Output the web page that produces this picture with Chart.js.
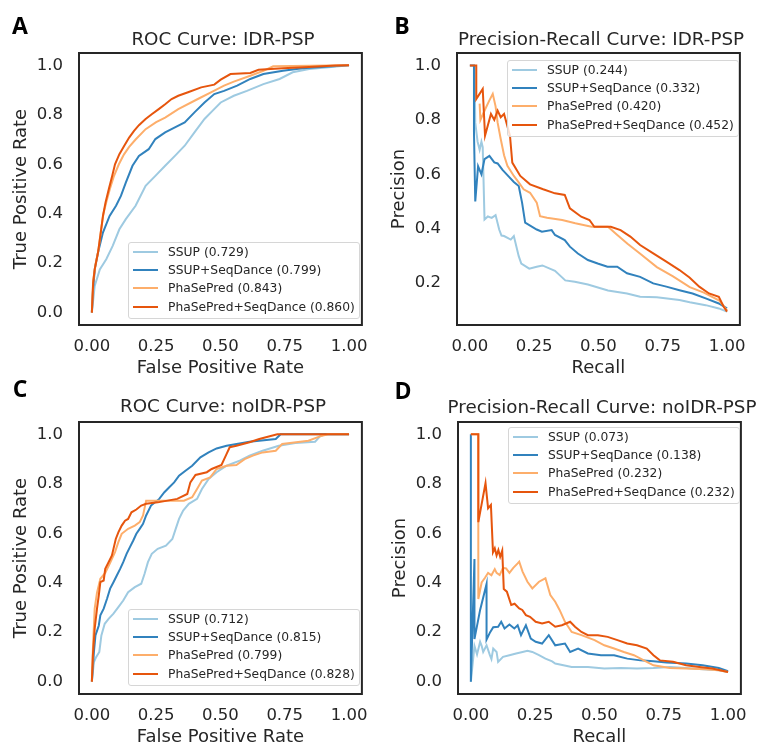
<!DOCTYPE html>
<html>
<head>
<meta charset="utf-8">
<script src="https://cdn.jsdelivr.net/npm/chart.js@4.4.0/dist/chart.umd.min.js"></script>
<style>
  html, body { margin: 0; padding: 0; background: #fff; overflow: hidden; }
  body { width: 757px; height: 745px; position: relative; font-family: "DejaVu Sans", sans-serif; color: #262626; }
  canvas { position: absolute; }
  .letter { position: absolute; font-family: "Open Sans", sans-serif; font-weight: 700; font-size: 23px; color: #000; transform: translate(-50%, -50%); }
  .title { position: absolute; font-size: 18.3px; white-space: nowrap; transform: translate(-50%, -50%); }
  .legend { position: absolute; box-sizing: border-box; background: rgba(255,255,255,0.8); border: 1px solid #d6d6d6; border-radius: 3px; font-size: 12.3px; padding: 0 0 0 4px; }
  .legend .row { height: 18.2px; display: flex; align-items: center; white-space: nowrap; }
  .legend .swatch { width: 25px; height: 2px; margin-right: 10px; flex: none; }
</style>
</head>
<body>
<script>
// --- series names / colours ---
const seriesNames = ["SSUP", "SSUP+SeqDance", "PhaSePred", "PhaSePred+SeqDance"];
const seriesColors = ["#9ecae1", "#3182bd", "#fdae6b", "#e6550d"];

// --- AUC / AP values shown in legends ---
const aucRocIdr = [0.729, 0.799, 0.843, 0.860];
const apPrIdr = [0.244, 0.332, 0.420, 0.452];
const aucRocNoIdr = [0.712, 0.815, 0.799, 0.828];
const apPrNoIdr = [0.073, 0.138, 0.232, 0.232];

// --- tick labels ---
const xTicks = [0, 0.25, 0.5, 0.75, 1.0];
const yTicksFull = [0, 0.2, 0.4, 0.6, 0.8, 1.0];
const yTicksPrIdr = [0.2, 0.4, 0.6, 0.8, 1.0];

// --- ROC: IDR-PSP  [fpr, tpr] ---
const rocIdrSsup = [[0,0],[0.011,0.108],[0.031,0.175],[0.056,0.216],[0.081,0.27],[0.107,0.337],[0.132,0.378],[0.17,0.432],[0.209,0.513],[0.247,0.553],[0.285,0.594],[0.323,0.634],[0.361,0.675],[0.399,0.729],[0.438,0.783],[0.468,0.815],[0.501,0.85],[0.552,0.877],[0.603,0.897],[0.667,0.924],[0.73,0.945],[0.781,0.972],[0.845,0.985],[0.921,0.992],[1,1]];
const rocIdrSsupSeq = [[0,0],[0.005,0.1],[0.012,0.18],[0.024,0.243],[0.043,0.324],[0.069,0.391],[0.094,0.432],[0.113,0.472],[0.132,0.526],[0.158,0.594],[0.183,0.634],[0.221,0.661],[0.247,0.702],[0.285,0.729],[0.323,0.749],[0.361,0.769],[0.399,0.81],[0.438,0.85],[0.476,0.884],[0.514,0.897],[0.565,0.918],[0.616,0.945],[0.667,0.965],[0.743,0.978],[0.819,0.988],[0.921,0.995],[1,1]];
const rocIdrPhase = [[0,0],[0.005,0.13],[0.015,0.2],[0.025,0.25],[0.035,0.33],[0.045,0.4],[0.057,0.45],[0.07,0.5],[0.085,0.55],[0.105,0.6],[0.125,0.64],[0.145,0.67],[0.17,0.7],[0.209,0.742],[0.25,0.77],[0.285,0.789],[0.336,0.823],[0.412,0.864],[0.463,0.891],[0.514,0.918],[0.552,0.934],[0.616,0.958],[0.667,0.978],[0.705,0.996],[0.85,0.998],[1,1]];
const rocIdrPhaseSeq = [[0,0],[0.005,0.12],[0.011,0.175],[0.024,0.243],[0.033,0.31],[0.043,0.39],[0.053,0.445],[0.066,0.5],[0.079,0.553],[0.09,0.6],[0.107,0.641],[0.126,0.675],[0.145,0.708],[0.164,0.735],[0.183,0.758],[0.209,0.783],[0.234,0.803],[0.26,0.823],[0.285,0.843],[0.31,0.864],[0.336,0.877],[0.374,0.891],[0.425,0.911],[0.476,0.922],[0.501,0.942],[0.539,0.965],[0.616,0.969],[0.648,0.982],[0.743,0.988],[0.845,0.993],[0.947,0.999],[1,1]];

// --- Precision-Recall: IDR-PSP  [recall, precision] ---
const prIdrSsup = [[0.018,1.0],[0.021,0.79],[0.03,0.72],[0.038,0.69],[0.045,0.72],[0.05,0.70],[0.057,0.434],[0.07,0.445],[0.085,0.44],[0.1,0.45],[0.114,0.397],[0.123,0.375],[0.133,0.373],[0.159,0.36],[0.171,0.373],[0.19,0.299],[0.2,0.272],[0.231,0.253],[0.26,0.26],[0.282,0.265],[0.331,0.245],[0.371,0.21],[0.408,0.205],[0.459,0.195],[0.537,0.173],[0.611,0.162],[0.662,0.15],[0.727,0.148],[0.815,0.138],[0.855,0.13],[0.917,0.119],[0.968,0.107],[1.0,0.095]];
const prIdrSsupSeq = [[0,1.0],[0.016,1.0],[0.016,0.754],[0.021,0.5],[0.032,0.63],[0.045,0.60],[0.057,0.656],[0.076,0.668],[0.095,0.644],[0.108,0.64],[0.127,0.616],[0.146,0.597],[0.171,0.572],[0.19,0.557],[0.203,0.496],[0.215,0.422],[0.26,0.397],[0.28,0.389],[0.318,0.395],[0.331,0.377],[0.369,0.358],[0.389,0.334],[0.42,0.309],[0.459,0.285],[0.497,0.272],[0.535,0.26],[0.573,0.26],[0.611,0.236],[0.662,0.223],[0.713,0.199],[0.764,0.187],[0.815,0.174],[0.866,0.162],[0.917,0.144],[0.968,0.125],[1.0,0.107]];
const prIdrPhase = [[0.038,0.86],[0.041,0.80],[0.06,0.84],[0.075,0.87],[0.089,0.896],[0.1,0.85],[0.108,0.79],[0.12,0.73],[0.133,0.67],[0.146,0.631],[0.171,0.594],[0.19,0.57],[0.209,0.545],[0.234,0.532],[0.26,0.496],[0.273,0.446],[0.3,0.44],[0.359,0.432],[0.41,0.42],[0.473,0.407],[0.537,0.407],[0.57,0.38],[0.613,0.345],[0.66,0.31],[0.727,0.259],[0.79,0.225],[0.855,0.185],[0.91,0.165],[0.97,0.136],[1.0,0.1]];
const prIdrPhaseSeq = [[0,1.0],[0.025,1.0],[0.025,0.877],[0.05,0.914],[0.059,0.742],[0.082,0.822],[0.095,0.80],[0.108,0.834],[0.12,0.81],[0.133,0.822],[0.156,0.742],[0.165,0.643],[0.196,0.594],[0.234,0.563],[0.285,0.545],[0.331,0.53],[0.369,0.524],[0.389,0.475],[0.433,0.444],[0.465,0.432],[0.484,0.407],[0.548,0.407],[0.586,0.395],[0.624,0.371],[0.662,0.34],[0.713,0.309],[0.764,0.279],[0.815,0.248],[0.854,0.221],[0.892,0.187],[0.93,0.162],[0.968,0.15],[0.987,0.113],[1.0,0.095]];

// --- ROC: noIDR-PSP ---
const rocNoSsup = [[0,0],[0.008,0.079],[0.017,0.1],[0.029,0.12],[0.037,0.187],[0.05,0.234],[0.065,0.254],[0.084,0.275],[0.103,0.301],[0.122,0.328],[0.141,0.362],[0.167,0.382],[0.192,0.396],[0.205,0.436],[0.218,0.483],[0.233,0.517],[0.256,0.537],[0.288,0.55],[0.313,0.577],[0.326,0.618],[0.339,0.658],[0.355,0.692],[0.377,0.719],[0.409,0.739],[0.428,0.779],[0.454,0.82],[0.485,0.847],[0.524,0.873],[0.575,0.894],[0.613,0.914],[0.664,0.934],[0.727,0.954],[0.791,0.965],[0.868,0.97],[0.887,0.992],[0.906,1.0],[1,1]];
const rocNoSsupSeq = [[0,0],[0.008,0.12],[0.014,0.187],[0.027,0.227],[0.033,0.268],[0.046,0.295],[0.059,0.335],[0.071,0.376],[0.084,0.402],[0.097,0.429],[0.11,0.456],[0.122,0.483],[0.135,0.517],[0.148,0.544],[0.161,0.571],[0.173,0.598],[0.186,0.618],[0.199,0.638],[0.211,0.672],[0.23,0.712],[0.262,0.739],[0.282,0.766],[0.301,0.786],[0.32,0.806],[0.339,0.833],[0.364,0.853],[0.39,0.873],[0.422,0.907],[0.454,0.927],[0.485,0.943],[0.524,0.954],[0.613,0.97],[0.715,0.981],[0.734,1.0],[1,1]];
const rocNoPhase = [[0,0],[0.004,0.13],[0.011,0.295],[0.02,0.36],[0.033,0.416],[0.052,0.44],[0.071,0.48],[0.09,0.524],[0.103,0.564],[0.116,0.598],[0.141,0.618],[0.167,0.631],[0.186,0.645],[0.199,0.672],[0.211,0.732],[0.256,0.732],[0.307,0.732],[0.358,0.732],[0.39,0.746],[0.409,0.779],[0.428,0.813],[0.46,0.826],[0.485,0.86],[0.524,0.873],[0.562,0.876],[0.594,0.9],[0.626,0.914],[0.664,0.927],[0.715,0.934],[0.74,0.961],[0.842,0.974],[0.887,0.992],[0.918,1.0],[1,1]];
const rocNoPhaseSeq = [[0,0],[0.004,0.106],[0.011,0.214],[0.02,0.295],[0.027,0.349],[0.033,0.402],[0.046,0.409],[0.052,0.456],[0.065,0.483],[0.078,0.51],[0.084,0.537],[0.093,0.577],[0.103,0.604],[0.116,0.631],[0.129,0.651],[0.141,0.658],[0.154,0.685],[0.173,0.696],[0.192,0.712],[0.211,0.719],[0.256,0.725],[0.294,0.732],[0.332,0.739],[0.371,0.759],[0.383,0.806],[0.403,0.836],[0.447,0.847],[0.466,0.86],[0.504,0.876],[0.524,0.921],[0.536,0.948],[0.562,0.954],[0.613,0.968],[0.651,0.981],[0.721,1.0],[1,1]];

// --- Precision-Recall: noIDR-PSP ---
const prNoSsup = [[0,0],[0.014,0.145],[0.024,0.11],[0.036,0.161],[0.042,0.145],[0.048,0.12],[0.061,0.147],[0.074,0.107],[0.08,0.091],[0.087,0.134],[0.1,0.12],[0.106,0.08],[0.125,0.1],[0.15,0.107],[0.176,0.114],[0.201,0.12],[0.22,0.125],[0.239,0.12],[0.265,0.107],[0.29,0.093],[0.316,0.082],[0.328,0.073],[0.392,0.059],[0.455,0.059],[0.519,0.053],[0.583,0.055],[0.646,0.053],[0.71,0.055],[0.774,0.059],[0.837,0.055],[0.901,0.05],[0.964,0.046],[1,0.039]];
const prNoSsupSeq = [[0,1.0],[0,0],[0.014,0.496],[0.014,0.172],[0.036,0.29],[0.061,0.395],[0.061,0.17],[0.075,0.2],[0.087,0.22],[0.106,0.222],[0.118,0.242],[0.131,0.215],[0.15,0.231],[0.169,0.215],[0.182,0.228],[0.195,0.188],[0.214,0.228],[0.233,0.174],[0.252,0.161],[0.277,0.154],[0.303,0.188],[0.328,0.147],[0.366,0.154],[0.386,0.12],[0.417,0.134],[0.455,0.114],[0.506,0.107],[0.557,0.107],[0.608,0.093],[0.659,0.086],[0.71,0.082],[0.761,0.077],[0.837,0.073],[0.901,0.066],[0.964,0.055],[1,0.042]];
const prNoPhase = [[0,1.0],[0.029,1.0],[0.029,0.645],[0.029,0.334],[0.042,0.401],[0.055,0.42],[0.067,0.44],[0.08,0.43],[0.093,0.455],[0.1,0.44],[0.112,0.431],[0.125,0.46],[0.137,0.458],[0.15,0.44],[0.165,0.46],[0.182,0.478],[0.188,0.485],[0.201,0.445],[0.22,0.404],[0.239,0.377],[0.265,0.404],[0.29,0.418],[0.309,0.35],[0.328,0.323],[0.345,0.29],[0.366,0.242],[0.392,0.201],[0.43,0.188],[0.481,0.168],[0.519,0.147],[0.557,0.134],[0.595,0.12],[0.634,0.107],[0.684,0.08],[0.71,0.066],[0.774,0.055],[0.837,0.053],[0.913,0.05],[0.964,0.046],[1,0.039]];
const prNoPhaseSeq = [[0,1.0],[0.029,1.0],[0.029,0.645],[0.057,0.803],[0.067,0.701],[0.078,0.715],[0.086,0.523],[0.093,0.539],[0.1,0.51],[0.107,0.532],[0.114,0.505],[0.122,0.53],[0.128,0.375],[0.14,0.364],[0.157,0.31],[0.17,0.315],[0.188,0.296],[0.2,0.29],[0.214,0.269],[0.23,0.262],[0.252,0.242],[0.277,0.235],[0.303,0.242],[0.328,0.222],[0.354,0.228],[0.386,0.242],[0.405,0.222],[0.43,0.201],[0.455,0.188],[0.494,0.188],[0.532,0.181],[0.57,0.168],[0.608,0.154],[0.646,0.147],[0.684,0.134],[0.71,0.107],[0.735,0.086],[0.786,0.08],[0.837,0.066],[0.888,0.059],[0.939,0.053],[1,0.039]];

// --- panel layout ---
const TEXT = "#262626";
const FONT = "'DejaVu Sans', sans-serif";

const panels = [
  { letter: "A", lx: 20, ly: 25, left: 0, top: 0, title: "ROC Curve: IDR-PSP", tx: 223, ty: 38,
    xLabel: "False Positive Rate", yLabel: "True Positive Rate",
    curves: [rocIdrSsup, rocIdrSsupSeq, rocIdrPhase, rocIdrPhaseSeq], scores: aucRocIdr,
    yMin: -0.05, yMax: 1.05, yTicks: yTicksFull, legend: { left: 128, top: 242 } },
  { letter: "B", lx: 402, ly: 25, left: 378, top: 0, title: "Precision-Recall Curve: IDR-PSP", tx: 601, ty: 38,
    xLabel: "Recall", yLabel: "Precision",
    curves: [prIdrSsup, prIdrSsupSeq, prIdrPhase, prIdrPhaseSeq], scores: apPrIdr,
    yMin: 0.046, yMax: 1.046, yTicks: yTicksPrIdr, legend: { left: 507, top: 60 } },
  { letter: "C", lx: 20, ly: 388, left: 0, top: 369, title: "ROC Curve: noIDR-PSP", tx: 223, ty: 405,
    xLabel: "False Positive Rate", yLabel: "True Positive Rate",
    curves: [rocNoSsup, rocNoSsupSeq, rocNoPhase, rocNoPhaseSeq], scores: aucRocNoIdr,
    yMin: -0.05, yMax: 1.05, yTicks: yTicksFull, legend: { left: 128, top: 609 } },
  { letter: "D", lx: 403, ly: 390, left: 379, top: 369, title: "Precision-Recall Curve: noIDR-PSP", tx: 602, ty: 406,
    xLabel: "Recall", yLabel: "Precision",
    curves: [prNoSsup, prNoSsupSeq, prNoPhase, prNoPhaseSeq], scores: apPrNoIdr,
    yMin: -0.05, yMax: 1.05, yTicks: yTicksFull, legend: { left: 508, top: 427 } }
];

// axes frame drawn over the lines
const framePlugin = {
  id: "frame",
  afterDatasetsDraw(chart) {
    const { ctx, chartArea: { left, top, width, height } } = chart;
    ctx.save();
    ctx.strokeStyle = TEXT;
    ctx.lineWidth = 2;
    ctx.strokeRect(left, top, width, height);
    ctx.restore();
  }
};

function addText(cls, text, x, y) {
  const el = document.createElement("div");
  el.className = cls;
  el.textContent = text;
  el.style.left = x + "px";
  el.style.top = y + "px";
  document.body.appendChild(el);
}

function addLegend(p) {
  const box = document.createElement("div");
  box.className = "legend";
  box.style.left = p.legend.left + "px";
  box.style.top = p.legend.top + "px";
  box.style.width = "232px";
  box.style.height = "77px";
  seriesNames.forEach((name, i) => {
    const row = document.createElement("div");
    row.className = "row";
    const sw = document.createElement("span");
    sw.className = "swatch";
    sw.style.background = seriesColors[i];
    const label = document.createElement("span");
    label.textContent = `${name} (${p.scores[i].toFixed(3)})`;
    row.appendChild(sw);
    row.appendChild(label);
    box.appendChild(row);
  });
  document.body.appendChild(box);
}

function createPanel(p) {
  const canvas = document.createElement("canvas");
  canvas.width = 380;
  canvas.height = 390;
  canvas.style.left = p.left + "px";
  canvas.style.top = p.top + "px";
  document.body.appendChild(canvas);

  const datasets = p.curves.map((pts, i) => ({
    label: seriesNames[i],
    data: pts.map(([x, y]) => ({ x, y })),
    borderColor: seriesColors[i],
    borderWidth: 2,
    pointRadius: 0,
    tension: 0,
    fill: false,
    order: 3 - i
  }));

  return new Chart(canvas.getContext("2d"), {
    type: "line",
    data: { datasets },
    options: {
      responsive: false,
      animation: false,
      events: [],
      layout: { padding: { top: 53, right: 13, left: 0, bottom: 0 }, autoPadding: false },
      plugins: { legend: { display: false }, tooltip: { enabled: false } },
      scales: {
        x: {
          type: "linear", min: -0.05, max: 1.05,
          grid: { display: false, drawTicks: false }, border: { display: false },
          afterBuildTicks: s => { s.ticks = xTicks.map(v => ({ value: v })); },
          afterFit: s => { s.height = 65; },
          ticks: { padding: 12, color: TEXT, font: { family: FONT, size: 16.5 }, maxRotation: 0, autoSkip: false,
                   callback: v => v.toFixed(2) },
          title: { display: true, text: p.xLabel, color: TEXT, font: { family: FONT, size: 18 }, padding: { top: 0, bottom: 10.7 } }
        },
        y: {
          type: "linear", min: p.yMin, max: p.yMax,
          grid: { display: false, drawTicks: false }, border: { display: false },
          afterBuildTicks: s => { s.ticks = p.yTicks.map(v => ({ value: v })); },
          afterFit: s => { s.width = 79; },
          ticks: { padding: 16, color: TEXT, font: { family: FONT, size: 16.5 }, autoSkip: false,
                   callback: v => v.toFixed(1) },
          title: { display: true, text: p.yLabel, color: TEXT, font: { family: FONT, size: 18 }, padding: { top: 10.2, bottom: 0 } }
        }
      }
    },
    plugins: [framePlugin]
  });
}

panels.forEach(p => {
  createPanel(p);
  addText("title", p.title, p.tx, p.ty);
  addText("letter", p.letter, p.lx, p.ly);
  addLegend(p);
});
</script>
</body>
</html>
